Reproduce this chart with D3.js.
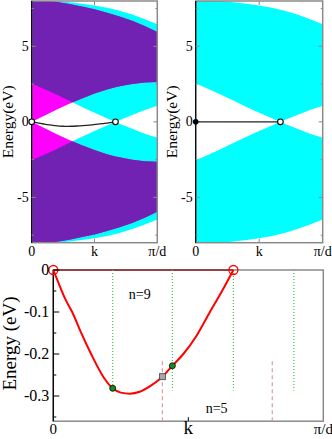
<!DOCTYPE html>
<html><head><meta charset="utf-8">
<script src="https://cdn.jsdelivr.net/npm/d3@7"></script>
<style>body{margin:0;background:#fff}svg{display:block}svg text{font-family:"Times New Roman",Times,"Liberation Serif","DejaVu Serif",serif}</style>
</head><body><svg id="c" width="332" height="439"></svg>
<script>
// ---- data ----
const kGrid     = [0, 0.1, 0.2, 0.3, 0.4, 0.5, 0.6, 0.667, 0.7, 0.8, 0.9, 1];
const cyanInner = [2.54, 2.17, 1.79, 1.39, 0.99, 0.61, 0.24, 0, 0.12, 0.45, 0.78, 1.06];
const cyanOuter = [8.1, 8.08, 8.0, 7.92, 7.82, 7.7, 7.55, 7.42, 7.35, 7.1, 6.8, 6.46];
const magInner  = [0, 0.41, 0.82, 1.2, 1.55, 1.87, 2.14, 2.29, 2.35, 2.51, 2.61, 2.64];
const magOuter  = [8.1, 8.05, 7.93, 7.8, 7.63, 7.45, 7.22, 7.06, 6.98, 6.7, 6.35, 5.95];

const dispK = [0, 0.02, 0.045, 0.07, 0.1, 0.14, 0.185, 0.22, 0.25, 0.284, 0.32, 0.36, 0.404, 0.441, 0.4815, 0.53, 0.58, 0.625, 0.667];
const dispE = [0, -0.032, -0.07, -0.1, -0.145, -0.2, -0.254, -0.2817, -0.292, -0.2945, -0.29, -0.276, -0.254, -0.228, -0.2, -0.157, -0.1, -0.05, 0];

const diracK = [0, 0.667];
const greenK = [0.22, 0.441, 0.667, 0.891];
const greenTop = 0, greenBottom = [-0.2817, -0.287, -0.287, -0.287];
const greenDots = [[0.22, -0.2817], [0.441, -0.228]];
const squarePt = [0.404, -0.254];
const pinkK = [0.404, 0.811];
const pinkTop = -0.217;
const nLabels = [{t: "n=9", k: 0.32, e: -0.07}, {t: "n=5", k: 0.605, e: -0.34}];

const topYTicks = [-5, 0, 5], topYMinor = [-7.5, -2.5, 2.5, 7.5];
const xTickVals = [0, 0.5, 1], xTickLabels = ["0", "k", "π/d"];
const botYTicks = [0, -0.1, -0.2, -0.3], botYMinor = [-0.05, -0.15, -0.25, -0.35];

const PURPLE = "#7222b2", CYAN = "#00ffff", MAG = "#ff00ff", GRAY = "#8a8a8a";
const FONT = "Times New Roman, Times, Liberation Serif, DejaVu Serif, serif";
const svg = d3.select("#c");
const txt = (sel) => sel.append("text").attr("font-family", FONT).attr("fill", "#000");

function topPanel(id, x0, x1, withMag) {
  const x = d3.scaleLinear().domain([0, 1]).range([x0, x1]);
  const y = d3.scaleLinear().domain([-8, 8]).range([242.7, 1]);
  const g = svg.append("g");
  const defs = svg.append("defs");
  defs.append("clipPath").attr("id", "r" + id).append("rect")
    .attr("x", x0).attr("y", y(8)).attr("width", x1 - x0).attr("height", y(-8) - y(8));
  const rows = kGrid.map((k, i) => ({k, ci: cyanInner[i], co: cyanOuter[i], mi: magInner[i], mo: magOuter[i]}));
  const area = (lo, hi, s) => d3.area().x(d => x(d.k)).y0(d => y(s * lo(d))).y1(d => y(s * hi(d))).curve(d3.curveLinear)(rows);
  const cyanPaths = [area(d => d.ci, d => d.co, 1), area(d => d.ci, d => d.co, -1)];
  const magPaths = [area(d => d.mi, d => d.mo, 1), area(d => d.mi, d => d.mo, -1)];
  const pg = g.append("g").attr("clip-path", `url(#r${id})`);
  cyanPaths.forEach(p => pg.append("path").attr("d", p).attr("fill", CYAN));
  if (withMag) {
    const cp = defs.append("clipPath").attr("id", "cy" + id);
    cyanPaths.forEach(p => cp.append("path").attr("d", p));
    magPaths.forEach(p => pg.append("path").attr("d", p).attr("fill", MAG));
    const ov = pg.append("g").attr("clip-path", `url(#cy${id})`);
    magPaths.forEach(p => ov.append("path").attr("d", p).attr("fill", PURPLE));
  }
  g.append("rect").attr("x", x0).attr("y", y(8)).attr("width", x1 - x0).attr("height", y(-8) - y(8))
    .attr("fill", "none").attr("stroke", GRAY).attr("stroke-width", 1.5);
  g.append("line").attr("x1", x0).attr("x2", x0).attr("y1", y(8)).attr("y2", y(-8)).attr("stroke", "#000").attr("stroke-width", 1.2);
  topYTicks.forEach(v => {
    g.append("line").attr("x1", x0).attr("x2", x0 + 4).attr("y1", y(v)).attr("y2", y(v)).attr("stroke", GRAY);
    g.append("line").attr("x1", x1).attr("x2", x1 - 4).attr("y1", y(v)).attr("y2", y(v)).attr("stroke", GRAY);
    txt(g).attr("x", x0 - 3).attr("y", y(v) + 4.5).attr("text-anchor", "end").attr("font-size", 14).text(v);
  });
  topYMinor.forEach(v => {
    g.append("line").attr("x1", x0).attr("x2", x0 + 2).attr("y1", y(v)).attr("y2", y(v)).attr("stroke", GRAY);
    g.append("line").attr("x1", x1).attr("x2", x1 - 2).attr("y1", y(v)).attr("y2", y(v)).attr("stroke", GRAY);
  });
  xTickVals.forEach((v, i) => {
    if (v > 0 && v < 1) {
      g.append("line").attr("x1", x(v)).attr("x2", x(v)).attr("y1", y(-8)).attr("y2", y(-8) - 4).attr("stroke", GRAY);
      g.append("line").attr("x1", x(v)).attr("x2", x(v)).attr("y1", y(8)).attr("y2", y(8) + 4).attr("stroke", GRAY);
    }
    txt(g).attr("x", x(v)).attr("y", 256).attr("text-anchor", "middle").attr("font-size", 14).text(xTickLabels[i]);
  });
  txt(g).attr("transform", `translate(${x0 - 18.5},${y(0)}) rotate(-90)`).attr("text-anchor", "middle")
    .attr("font-size", 15.5).text("Energy(eV)");
  return {x, y, g};
}

// top-left
const TL = topPanel("L", 31.7, 157.3, true);
TL.g.append("path").datum(dispK.map((k, i) => [k, dispE[i]]))
  .attr("d", d3.line().x(d => TL.x(d[0])).y(d => TL.y(d[1])).curve(d3.curveMonotoneX))
  .attr("fill", "none").attr("stroke", "#222").attr("stroke-width", 1.3);
diracK.forEach(k => TL.g.append("circle").attr("cx", TL.x(k)).attr("cy", TL.y(0)).attr("r", 2.8)
  .attr("fill", "#fff").attr("stroke", "#000").attr("stroke-width", 1.1));

// top-right
const TR = topPanel("R", 195.7, 322.7, false);
TR.g.append("line").attr("x1", TR.x(diracK[0])).attr("x2", TR.x(diracK[1])).attr("y1", TR.y(0)).attr("y2", TR.y(0))
  .attr("stroke", "#222").attr("stroke-width", 1.3);
TR.g.append("circle").attr("cx", TR.x(diracK[0])).attr("cy", TR.y(0)).attr("r", 2.8).attr("fill", "#000");
TR.g.append("circle").attr("cx", TR.x(diracK[1])).attr("cy", TR.y(0)).attr("r", 2.8)
  .attr("fill", "#fff").attr("stroke", "#000").attr("stroke-width", 1.1);

// bottom panel
const bx = d3.scaleLinear().domain([0, 1]).range([53.3, 323.3]);
const by = d3.scaleLinear().domain([-0.36, 0]).range([421.2, 270]);
const B = svg.append("g");
B.append("rect").attr("x", bx(0)).attr("y", by(0)).attr("width", bx(1) - bx(0)).attr("height", by(-0.36) - by(0))
  .attr("fill", "none").attr("stroke", GRAY).attr("stroke-width", 1.5);
B.append("line").attr("x1", bx(0)).attr("x2", bx(0)).attr("y1", by(0)).attr("y2", by(-0.36)).attr("stroke", "#000").attr("stroke-width", 1.3);
B.append("line").attr("x1", bx(0)).attr("x2", bx(diracK[1])).attr("y1", by(0)).attr("y2", by(0)).attr("stroke", "#8b2222").attr("stroke-width", 1.5);

greenK.forEach((k, i) => B.append("line").attr("x1", bx(k)).attr("x2", bx(k)).attr("y1", by(greenTop)).attr("y2", by(greenBottom[i]))
  .attr("stroke", "#4cc04c").attr("stroke-width", 1.2).attr("stroke-dasharray", "1,2"));
pinkK.forEach(k => B.append("line").attr("x1", bx(k)).attr("x2", bx(k)).attr("y1", by(pinkTop)).attr("y2", by(-0.36))
  .attr("stroke", "#d9a0a0").attr("stroke-width", 1.2).attr("stroke-dasharray", "4,3"));

B.append("path").datum(dispK.map((k, i) => [k, dispE[i]]))
  .attr("d", d3.line().x(d => bx(d[0])).y(d => by(d[1])).curve(d3.curveMonotoneX))
  .attr("fill", "none").attr("stroke", "#ff0000").attr("stroke-width", 2);
diracK.forEach(k => B.append("circle").attr("cx", bx(k)).attr("cy", by(0)).attr("r", 4.5)
  .attr("fill", "none").attr("stroke", "#ff0000").attr("stroke-width", 1.3));
greenDots.forEach(d => B.append("circle").attr("cx", bx(d[0])).attr("cy", by(d[1])).attr("r", 3)
  .attr("fill", "#1a8a1a").attr("stroke", "#000").attr("stroke-width", 0.8));
B.append("rect").attr("x", bx(squarePt[0]) - 3).attr("y", by(squarePt[1]) - 3).attr("width", 6).attr("height", 6)
  .attr("fill", "#a8a8a8").attr("stroke", "#444").attr("stroke-width", 0.8);

botYTicks.forEach(v => {
  B.append("line").attr("x1", bx(0)).attr("x2", bx(0) + 6).attr("y1", by(v)).attr("y2", by(v)).attr("stroke", "#000");
  txt(B).attr("x", bx(0) - 4).attr("y", by(v) + 5).attr("text-anchor", "end").attr("font-size", 16).text(v === 0 ? "0" : v.toFixed(1));
});
botYMinor.forEach(v => B.append("line").attr("x1", bx(0)).attr("x2", bx(0) + 3).attr("y1", by(v)).attr("y2", by(v)).attr("stroke", "#000"));
B.append("line").attr("x1", bx(0.5)).attr("x2", bx(0.5)).attr("y1", by(-0.36)).attr("y2", by(-0.36) - 4).attr("stroke", "#000");
txt(B).attr("x", bx(0)).attr("y", 434).attr("text-anchor", "middle").attr("font-size", 15).text(xTickLabels[0]);
txt(B).attr("x", bx(1)).attr("y", 434).attr("text-anchor", "middle").attr("font-size", 15).text(xTickLabels[2]);
txt(B).attr("x", bx(0.5)).attr("y", 434).attr("text-anchor", "middle").attr("font-size", 19).text(xTickLabels[1]);
txt(B).attr("transform", `translate(16,${by(-0.175)}) rotate(-90)`).attr("text-anchor", "middle")
  .attr("font-size", 19).text("Energy (eV)");
nLabels.forEach(d => txt(B).attr("x", bx(d.k)).attr("y", by(d.e)).attr("text-anchor", "middle").attr("font-size", 14).text(d.t));
</script></body></html>
